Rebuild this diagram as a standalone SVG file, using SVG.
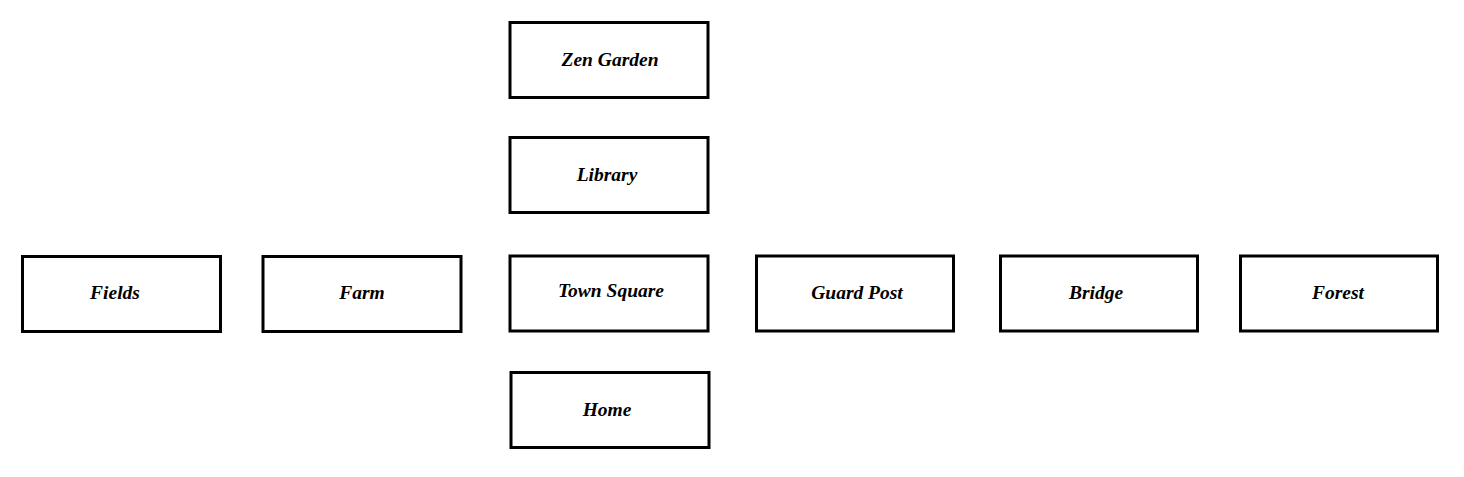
<svg xmlns="http://www.w3.org/2000/svg" width="1464" height="477" viewBox="0 0 1464 477">
<style>
.box{fill:#fff;stroke:#000;stroke-width:3}
.lbl{font-family:"Liberation Serif","DejaVu Serif",serif;font-style:italic;font-weight:bold;font-size:19.5px;fill:#000;text-anchor:middle;dominant-baseline:central}
</style>
<rect width="1464" height="477" fill="#fff"/>
<g id="connectors"></g>
<g id="zen-garden"><rect class="box" x="510" y="22.5" width="198" height="75"/><text class="lbl" x="610" y="59">Zen Garden</text></g>
<g id="library"><rect class="box" x="510" y="137.5" width="198" height="75"/><text class="lbl" x="607" y="174">Library</text></g>
<g id="fields"><rect class="box" x="22.5" y="256.5" width="198" height="75"/><text class="lbl" x="115" y="292">Fields</text></g>
<g id="farm"><rect class="box" x="263" y="256.5" width="198" height="75"/><text class="lbl" x="362" y="292">Farm</text></g>
<g id="town-square"><rect class="box" x="510" y="256" width="198" height="75"/><text class="lbl" x="611" y="290">Town Square</text></g>
<g id="guard-post"><rect class="box" x="756.5" y="256" width="197" height="75"/><text class="lbl" x="857" y="292">Guard Post</text></g>
<g id="bridge"><rect class="box" x="1000.5" y="256" width="197" height="75"/><text class="lbl" x="1096" y="292">Bridge</text></g>
<g id="forest"><rect class="box" x="1240.5" y="256" width="197" height="75"/><text class="lbl" x="1338" y="292">Forest</text></g>
<g id="home"><rect class="box" x="511" y="372.5" width="198" height="75"/><text class="lbl" x="607" y="409">Home</text></g>
</svg>
